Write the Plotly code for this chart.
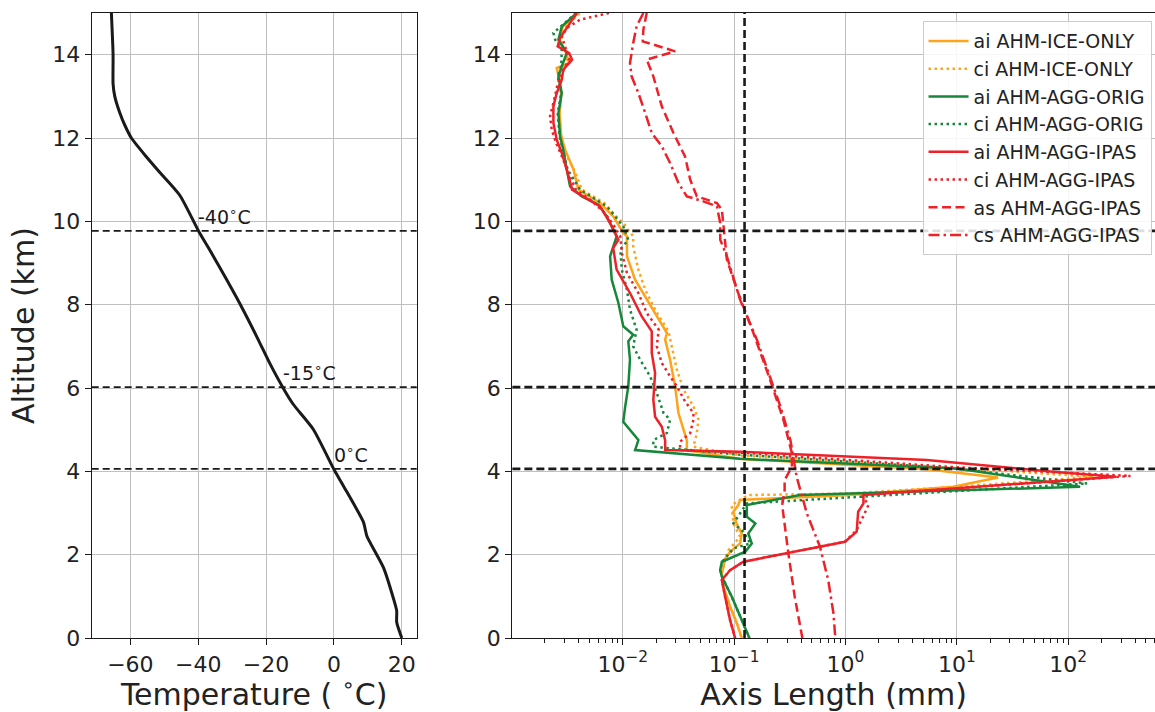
import plotly.graph_objects as go

# ---------------- data ----------------
# Left panel: temperature profile
temp_alt_km = [15.0, 14.0, 13.3, 13.0, 12.6, 12.3, 12.0, 11.55, 11.17, 10.62, 9.75, 9.31, 8.17,
               7.24, 6.59, 5.99, 5.61, 5.01, 4.03, 3.65, 2.78, 2.45, 1.69, 0.93, 0.65, 0.38, 0.0]
temp_c = [-65.6, -65.1, -65.1, -64.6, -63.1, -61.6, -59.7, -55.3, -51.3, -45.4, -39.8, -36.6, -28.7,
          -22.8, -18.9, -14.9, -12.0, -6.1, 0.1, 2.8, 8.7, 9.7, 14.6, 17.6, 18.5, 18.5, 20.0]

# Isotherm levels
level_alt_km = [4.06, 6.02, 9.77]
level_temp_c = [0, -15, -40]
level_labels = ["0", "-15", "-40"]

# Right panel: axis lengths (mm) vs altitude (km)
ai_ice_alt = [15.0, 14.68, 14.36, 14.04, 13.8, 13.68, 13.4, 13.08, 12.6, 12.04, 11.72, 11.24, 10.76,
              10.44, 10.12, 9.72, 9.64, 9.16, 8.6, 8.12, 7.64, 7.32, 7.16, 6.68, 6.04, 5.40, 5.0, 4.75,
              4.51, 4.30, 4.05, 3.85, 3.63, 3.43, 3.35, 3.31, 3.19, 3.03, 2.75, 2.51, 2.27, 2.07, 1.91,
              1.55, 1.23, 0.75, 0.35, 0.0]
ai_ice_mm = [0.0040, 0.0029, 0.0027, 0.0031, 0.0033, 0.00255, 0.0027, 0.0028, 0.0027, 0.0028, 0.00303,
             0.00361, 0.0040, 0.00626, 0.0082, 0.0101, 0.0109, 0.0109, 0.0129, 0.0164, 0.021, 0.0249,
             0.024, 0.0266, 0.0295, 0.0316, 0.0351, 0.0376, 0.0376, 0.11, 5.4, 23.5, 9.3, 1.1, 0.22,
             0.113, 0.109, 0.0985, 0.105, 0.117, 0.113, 0.0921, 0.0832, 0.0776, 0.0801, 0.0921, 0.106,
             0.117]

ci_ice_alt = [15.0, 14.6, 14.3, 14.0, 13.7, 13.4, 13.0, 12.6, 12.0, 11.6, 11.2, 10.76, 10.44, 10.12,
              9.96, 9.64, 9.4, 8.84, 8.36, 7.88, 7.36, 7.0, 6.44, 5.96, 5.56, 5.24, 4.92, 4.59, 4.38,
              4.10, 3.87, 3.63, 3.47, 3.43, 3.19, 2.75, 2.43, 2.11, 1.91, 1.55, 1.23, 0.75, 0.35, 0.0]
ci_ice_mm = [0.0041, 0.0029, 0.0028, 0.0032, 0.0029, 0.0027, 0.0028, 0.0027, 0.0028, 0.0031, 0.0037,
             0.0043, 0.0068, 0.0087, 0.0101, 0.0124, 0.0124, 0.0138, 0.0159, 0.0195, 0.0257, 0.0275,
             0.0306, 0.0351, 0.0431, 0.0478, 0.0462, 0.0431, 0.113, 8.0, 170.0, 10.0, 1.1, 0.134, 0.095,
             0.0985, 0.113, 0.089, 0.0832, 0.0776, 0.0801, 0.0921, 0.106, 0.117]

ai_orig_alt = [15.0, 14.68, 14.36, 14.04, 13.72, 13.48, 13.08, 12.6, 12.04, 11.72, 11.24, 10.84, 10.6,
               10.40, 10.12, 9.64, 9.16, 8.6, 8.04, 7.48, 7.28, 7.12, 6.68, 6.04, 5.55, 5.19, 4.75, 4.51,
               4.30, 4.07, 3.63, 3.43, 3.19, 2.91, 2.75, 2.51, 2.27, 2.07, 1.83, 1.63, 1.47, 0.99, 0.43,
               0.0]
ai_orig_mm = [0.00386, 0.00283, 0.00264, 0.00314, 0.00283, 0.00264, 0.00283, 0.00264, 0.00273, 0.00292,
              0.00314, 0.00336, 0.00428, 0.00604, 0.00718, 0.0088, 0.00769, 0.00795, 0.00913, 0.0101,
              0.0124, 0.0112, 0.0116, 0.0112, 0.0105, 0.0101, 0.0138, 0.0129, 0.113, 10.0, 128.0, 0.39,
              0.13, 0.13, 0.155, 0.134, 0.144, 0.126, 0.0776, 0.0749, 0.0776, 0.0953, 0.117, 0.137]

ci_orig_alt = [15.0, 14.52, 14.36, 14.12, 13.72, 13.48, 13.08, 12.6, 12.04, 11.72, 11.24, 10.76, 10.36,
               9.88, 9.56, 9.32, 8.84, 8.36, 7.88, 7.4, 7.0, 6.68, 6.28, 5.88, 5.40, 5.24, 4.92, 4.75,
               4.59, 4.40, 4.07, 3.71, 3.39, 3.31, 3.23, 2.75, 2.55, 2.27, 2.15, 1.83, 1.63, 1.47, 0.99,
               0.43, 0.0]
ci_orig_mm = [0.0038, 0.00238, 0.00247, 0.00283, 0.0028, 0.0026, 0.0028, 0.0026, 0.0027, 0.0029, 0.0032,
              0.00414, 0.00718, 0.0101, 0.0112, 0.0095, 0.0098, 0.0109, 0.0116, 0.0133, 0.0124, 0.0143,
              0.0176, 0.0202, 0.0232, 0.0266, 0.0249, 0.0188, 0.0188, 0.113, 9.4, 148.0, 1.45, 0.39,
              0.13, 0.0985, 0.121, 0.14, 0.0985, 0.078, 0.075, 0.078, 0.095, 0.117, 0.137]

ai_ipas_alt = [15.0, 14.4, 14.2, 14.04, 13.88, 13.64, 13.4, 13.08, 12.76, 12.36, 11.96, 11.64, 11.24,
               10.76, 10.6, 10.36, 9.96, 9.56, 9.36, 8.84, 8.28, 7.72, 7.36, 6.84, 6.36, 5.72, 5.31, 5.07,
               4.75, 4.51, 4.47, 4.27, 3.99, 3.87, 3.43, 3.23, 3.03, 2.55, 2.31, 1.83, 1.63, 1.39, 0.99,
               0.43, 0.0]
ai_ipas_mm = [0.00386, 0.00273, 0.0026, 0.0033, 0.0035, 0.00292, 0.00283, 0.00255, 0.00238, 0.00238,
              0.00255, 0.00283, 0.00314, 0.0035, 0.0044, 0.00626, 0.00769, 0.00913, 0.0082, 0.0088,
              0.0116, 0.0148, 0.0182, 0.0182, 0.0195, 0.0188, 0.0195, 0.0224, 0.024, 0.024, 0.113, 5.4,
              73.0, 270.0, 1.45, 1.45, 1.3, 1.26, 0.99, 0.121, 0.092, 0.0776, 0.083, 0.092, 0.102]

ci_ipas_alt = [15.0, 14.84, 14.64, 14.44, 14.2, 13.9, 13.6, 13.3, 12.84, 12.52, 12.2, 11.9, 11.5, 11.1,
               10.76, 10.5, 10.2, 9.9, 9.64, 9.24, 8.76, 8.28, 7.8, 7.4, 7.0, 6.6, 6.28, 6.04, 5.68, 5.40,
               5.24, 4.92, 4.71, 4.51, 4.45, 4.10, 3.89, 3.43, 3.19, 2.83, 2.59, 2.31, 1.83, 1.63, 1.39,
               0.99, 0.43, 0.0]
ci_ipas_mm = [0.0075, 0.00414, 0.00314, 0.00283, 0.00303, 0.0033, 0.0029, 0.0026, 0.00238, 0.00222,
              0.0023, 0.0025, 0.0029, 0.0033, 0.0038, 0.0052, 0.0069, 0.0083, 0.0095, 0.0098, 0.0109,
              0.0138, 0.0164, 0.021, 0.0202, 0.0224, 0.0266, 0.0306, 0.0362, 0.0431, 0.0431, 0.0403,
              0.0327, 0.0327, 0.113, 9.4, 363.0, 1.4, 1.61, 1.4, 1.26, 0.99, 0.121, 0.092, 0.0776,
              0.083, 0.092, 0.102]

as_ipas_alt = [15.0, 14.6, 14.32, 14.08, 13.88, 13.48, 12.76, 12.12, 11.56, 11.0, 10.6, 10.44, 10.28,
               9.88, 9.08, 8.36, 7.32, 6.2, 5.24, 4.44, 4.11, 3.79, 3.55, 3.19, 2.03, 0.99, 0.0]
as_ipas_mm = [0.0164, 0.0153, 0.0151, 0.0295, 0.0164, 0.0188, 0.0224, 0.0285, 0.0362, 0.0403, 0.0462,
              0.070, 0.0776, 0.0801, 0.0861, 0.106, 0.149, 0.21, 0.277, 0.33, 0.33, 0.284, 0.284, 0.27,
              0.307, 0.35, 0.41]

cs_ipas_alt = [15.0, 14.68, 14.28, 13.8, 13.48, 13.08, 12.6, 12.12, 11.8, 11.4, 10.92, 10.6, 10.48,
               10.36, 9.96, 9.56, 9.16, 8.12, 7.16, 6.28, 5.56, 4.75, 3.87, 2.99, 2.19, 1.39, 0.59, 0.0]
cs_ipas_mm = [0.0153, 0.0133, 0.0124, 0.0116, 0.012, 0.0138, 0.0159, 0.0182, 0.0224, 0.0266, 0.0316,
              0.0376, 0.0529, 0.070, 0.075, 0.075, 0.0861, 0.113, 0.16, 0.21, 0.26, 0.32, 0.364, 0.45,
              0.59, 0.70, 0.78, 0.81]

ref_axis_mm = 0.124  # vertical reference line

log_tickvals = [0.01, 0.1, 1, 10, 100]
log_ticktext = ["10<sup>−2</sup>", "10<sup>−1</sup>", "10<sup>0</sup>", "10<sup>1</sup>", "10<sup>2</sup>"]

# ---------------- styles ----------------
ORANGE = "#ffa31a"
GREEN = "#16873a"
RED = "#ee2129"
DOT = "2.5px,3.5px"
DASH = "9px,4.5px"
DASHDOT = "11px,4px,2.5px,4px"

series = [
    ("ai AHM-ICE-ONLY", ai_ice_alt, ai_ice_mm, ORANGE, "solid"),
    ("ci AHM-ICE-ONLY", ci_ice_alt, ci_ice_mm, ORANGE, DOT),
    ("ai AHM-AGG-ORIG", ai_orig_alt, ai_orig_mm, GREEN, "solid"),
    ("ci AHM-AGG-ORIG", ci_orig_alt, ci_orig_mm, GREEN, DOT),
    ("ai AHM-AGG-IPAS", ai_ipas_alt, ai_ipas_mm, RED, "solid"),
    ("ci AHM-AGG-IPAS", ci_ipas_alt, ci_ipas_mm, RED, DOT),
    ("as AHM-AGG-IPAS", as_ipas_alt, as_ipas_mm, RED, DASH),
    ("cs AHM-AGG-IPAS", cs_ipas_alt, cs_ipas_mm, RED, DASHDOT),
]

fig = go.Figure()

fig.add_trace(go.Scatter(x=temp_c, y=temp_alt_km, mode="lines",
                         line=dict(color="#1a1a1a", width=3, shape="spline", smoothing=0.6),
                         showlegend=False, xaxis="x", yaxis="y", hoverinfo="skip"))

for name, alt, vals, color, dash in series:
    fig.add_trace(go.Scatter(x=vals, y=alt, mode="lines", name=name,
                             line=dict(color=color, width=2.5, dash=dash),
                             xaxis="x2", yaxis="y2"))

shapes = []
for z in level_alt_km:
    shapes.append(dict(type="line", xref="x domain", yref="y", x0=0, x1=1, y0=z, y1=z,
                       line=dict(color="#1a1a1a", width=1.9, dash="7px,4px"), layer="above"))
    shapes.append(dict(type="line", xref="x2 domain", yref="y2", x0=0, x1=1, y0=z, y1=z,
                       line=dict(color="#1a1a1a", width=2.6, dash="8px,4px"), layer="above"))
shapes.append(dict(type="line", xref="x2", yref="y2 domain", x0=ref_axis_mm, x1=ref_axis_mm, y0=0, y1=1,
                   line=dict(color="#1a1a1a", width=2.6, dash="8px,4px"), layer="above"))

annotations = []
for z, t, lab in zip(level_alt_km, level_temp_c, level_labels):
    annotations.append(dict(x=t, y=z, xref="x", yref="y", text=lab + "<sup>∘</sup>C",
                            showarrow=False, xanchor="left", yanchor="bottom", yshift=1, xshift=-2,
                            font=dict(size=19, color="#1a1a1a")))

axis_common = dict(showline=True, linecolor="#1a1a1a", linewidth=1.2, mirror=True,
                   ticks="outside", ticklen=6, tickwidth=1.2, tickcolor="#1a1a1a",
                   showgrid=True, gridcolor="#c0c0c0", gridwidth=1.2, zeroline=False,
                   tickfont=dict(size=22, color="#222222"))

fig.update_layout(
    width=1155, height=712,
    margin=dict(l=0, r=0, t=13, b=74),
    paper_bgcolor="white", plot_bgcolor="white",
    font=dict(family="DejaVu Sans", size=22, color="#222222"),
    xaxis=dict(domain=[0.0794, 0.3608], range=[-71.4, 24.4], tickvals=[-60, -40, -20, 0, 20],
               title=dict(text="Temperature ( <sup>∘</sup>C)", font=dict(size=30), standoff=3),
               anchor="y", **axis_common),
    yaxis=dict(domain=[0, 1], range=[0, 15], tickvals=[0, 2, 4, 6, 8, 10, 12, 14],
               title=dict(text="Altitude (km)", font=dict(size=30), standoff=8),
               anchor="x", **axis_common),
    xaxis2=dict(domain=[0.4436, 1.0], type="log", range=[-2.992, 2.78],
                tickvals=log_tickvals, ticktext=log_ticktext,
                minor=dict(ticks="outside", ticklen=3.5, tickwidth=1, tickcolor="#1a1a1a",
                           tickvals=[k * 10.0 ** e for e in range(-3, 3) for k in range(2, 10)],
                           showgrid=False),
                title=dict(text="Axis Length (mm)", font=dict(size=30), standoff=3),
                anchor="y2", **axis_common),
    yaxis2=dict(domain=[0, 1], range=[0, 15], tickvals=[0, 2, 4, 6, 8, 10, 12, 14],
                anchor="x2", **axis_common),
    legend=dict(x=0.997, xanchor="right", y=0.987, yanchor="top",
                bgcolor="rgba(255,255,255,0.85)", bordercolor="#cccccc", borderwidth=1,
                font=dict(size=19, color="#222222"), itemwidth=40, tracegroupgap=0),
    shapes=shapes, annotations=annotations,
    showlegend=True,
)

fig.write_html("out.html")
